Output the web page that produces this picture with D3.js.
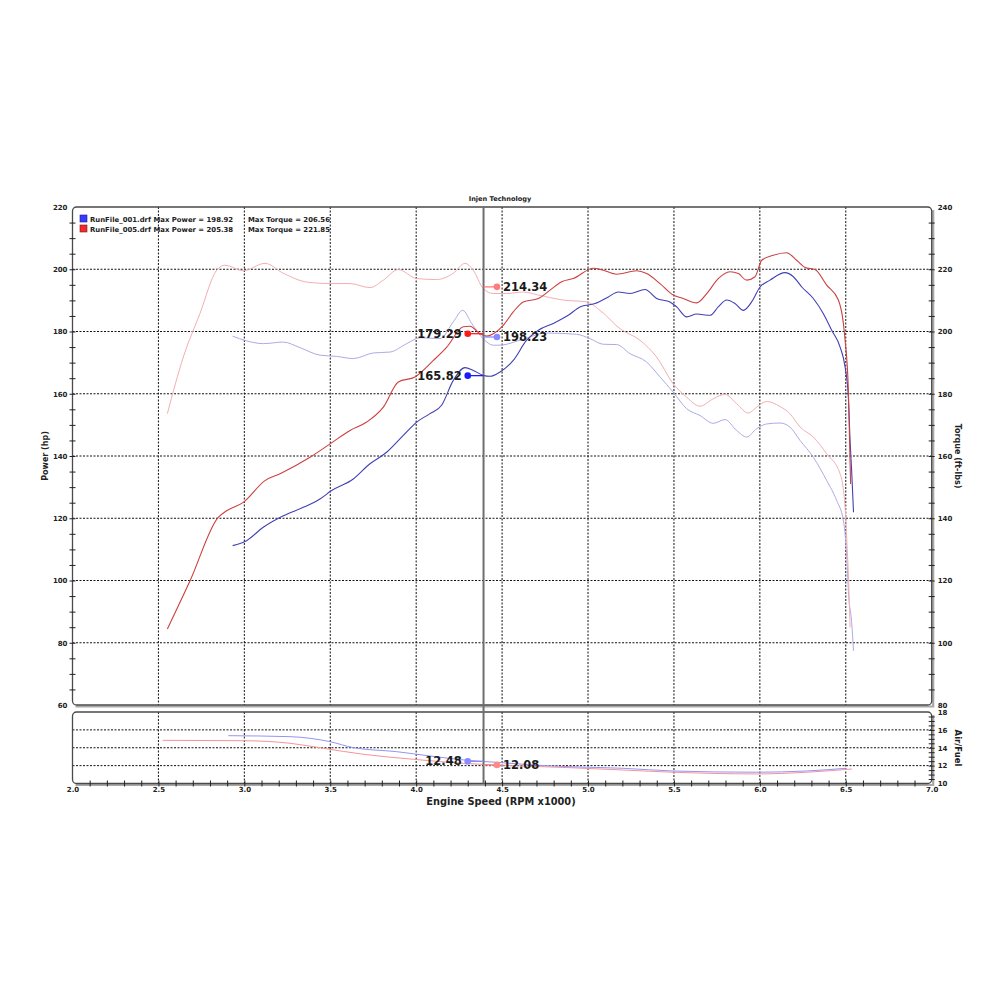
<!DOCTYPE html>
<html>
<head>
<meta charset="utf-8">
<script src="https://cdn.jsdelivr.net/npm/d3@7"></script>
<style>
  body { margin: 0; background: #fff; }
  svg { font-family: "DejaVu Sans", Verdana, sans-serif; }
</style>
</head>
<body>
<svg id="chart" width="1000" height="1000"></svg>
<script>
// run 1 (RunFile_001) power, hp
var rpm1P = [2.932,3.013,3.110,3.227,3.343,3.440,3.508,3.634,3.731,3.828,3.925,4.003,4.080,4.148,4.216,4.284,4.332,4.39,4.43,4.488,4.565,4.643,4.711,4.798,4.885,4.953,5.041,5.118,5.176,5.244,5.332,5.399,5.477,5.516,5.574,5.632,5.710,5.758,5.807,5.855,5.904,5.952,6.001,6.059,6.146,6.195,6.244,6.311,6.369,6.418,6.467,6.496,6.515,6.525,6.535,6.545];
var hp1 = [111.2,112.8,117.1,120.8,123.5,126.2,128.9,132.6,137.5,141.2,146.6,150.9,153.6,156.3,164.3,168.4,167.5,165.9,165.6,167.0,170.7,177.2,180.4,182.6,185.2,187.9,189.0,191.1,192.7,192.2,193.5,190.6,189.5,187.9,184.7,185.6,185.2,187.9,190.1,189.0,186.8,189.5,194.3,196.5,198.9,197.6,194.3,190.6,185.8,180.4,175.0,168.6,158.9,145.0,134.3,121.9];

// run 2 (RunFile_005) power, hp
var rpm2P = [2.552,2.684,2.848,2.897,2.994,3.120,3.208,3.382,3.499,3.615,3.712,3.809,3.896,3.993,4.100,4.178,4.274,4.313,4.371,4.41,4.449,4.507,4.565,4.623,4.711,4.779,4.847,4.914,5.031,5.089,5.167,5.283,5.341,5.419,5.496,5.554,5.632,5.691,5.758,5.826,5.875,5.923,5.972,6.011,6.078,6.156,6.214,6.263,6.321,6.389,6.457,6.486,6.496,6.515,6.522,6.528];
var hp2 = [84.4,99.9,120.3,122.4,125.1,132.1,134.3,139.6,143.9,148.2,150.9,155.7,163.8,165.4,170.7,175.0,181.5,181.7,179.3,178.5,179.3,182.0,186.3,189.5,190.6,193.3,196.0,197.0,200.3,199.7,198.4,199.5,198.6,195.4,191.7,190.6,189.2,192.2,197.0,199.2,198.6,196.5,197.6,202.9,204.5,205.3,202.9,200.6,199.9,194.9,190.1,182.6,177.2,161.1,145.0,131.0];

// torque, ft-lbs
var rpm1T = [2.932,3.013,3.110,3.227,3.324,3.440,3.537,3.634,3.750,3.848,3.945,4.022,4.139,4.216,4.271,4.323,4.39,4.449,4.488,4.604,4.759,4.934,5.012,5.089,5.167,5.244,5.341,5.419,5.496,5.574,5.652,5.729,5.797,5.865,5.923,5.982,6.040,6.117,6.175,6.234,6.311,6.389,6.447,6.486,6.506,6.515,6.535,6.545];
var tq1 = [198.5,197.0,196.1,196.6,194.8,192.4,192.0,191.3,193.1,193.4,196.1,198.0,197.7,203.1,206.8,202.6,197.7,195.6,195.6,197.2,199.5,199.1,197.7,195.9,195.8,192.9,190.2,185.4,180.5,175.2,173.0,170.5,171.7,168.2,166.1,168.8,170.3,170.6,169.3,165.0,159.6,152.1,145.7,139.2,127.4,116.7,106.0,97.4];
var rpm2T = [2.552,2.645,2.742,2.839,2.887,2.994,3.120,3.227,3.372,3.499,3.615,3.731,3.809,3.896,4.003,4.119,4.216,4.284,4.332,4.39,4.449,4.527,4.623,4.711,4.857,4.992,5.070,5.186,5.302,5.399,5.496,5.574,5.652,5.729,5.797,5.865,5.933,5.982,6.040,6.117,6.175,6.234,6.311,6.389,6.467,6.496,6.506,6.515,6.525];
var tq2 = [173.6,191.8,205.8,219.7,221.3,219.5,221.9,218.7,215.8,215.4,215.4,214.1,216.5,219.9,217.0,216.7,218.7,221.9,219.7,213.8,212.2,212.2,212.7,211.7,210.1,209.5,206.8,200.9,197.2,191.8,183.2,178.9,176.0,178.4,179.8,176.8,173.8,175.7,177.5,175.9,173.6,169.3,166.1,160.7,154.3,143.5,132.8,122.1,104.9];

// air/fuel
var rpm1A = [2.907,3.266,3.499,3.634,3.887,4.080,4.294,4.468,4.70,4.895,5.205,5.496,5.98,6.27,6.50];
var afr1 = [15.35,15.24,14.68,14.01,13.56,13.08,12.60,12.37,12.05,11.88,11.70,11.40,11.26,11.40,11.70];
var rpm2A = [2.525,2.994,3.266,3.460,3.692,3.983,4.274,4.468,4.895,5.205,5.496,5.98,6.272,6.535];
var afr2 = [14.83,14.79,14.50,13.94,13.27,12.71,12.26,12.07,11.77,11.51,11.26,11.07,11.26,11.62];

// cursor readouts
var cursorRpm = 4.392;
var powerRpm = 4.30, torqueRpm = 4.47;
var powerReads = [179.29, 165.82];   // run 2, run 1
var torqueReads = [214.34, 198.23];  // run 2, run 1
var afrReads = [12.48, 12.08];       // run 1 @ powerRpm, run 2 @ torqueRpm

var legendNames = ["RunFile_001.drf", "RunFile_005.drf"];
var maxPower = [198.92, 205.38];
var maxTorque = [206.56, 221.85];

var xTicks = [2.0,2.5,3.0,3.5,4.0,4.5,5.0,5.5,6.0,6.5,7.0];
var hpTicks = [60,80,100,120,140,160,180,200,220];
var tqTicks = [80,100,120,140,160,180,200,220,240];
var afrTicks = [10,12,14,16,18];

var svg = d3.select("#chart");

var L = 72.5, R = 931.7, T = 207, B = 705, AT = 712, AB = 783.5;

var x = d3.scaleLinear().domain([2,7]).range([L,R]);
var yP = d3.scaleLinear().domain([60,220]).range([B,T]);
var yT = d3.scaleLinear().domain([80,240]).range([B,T]);
var yA = d3.scaleLinear().domain([10,18]).range([AB,AT]);

var col = {p1:"#4040b4", p2:"#cc4040", t1:"#ababe6", t2:"#f3afb3", a1:"#9494f4", a2:"#f4949a"};

// title
svg.append("text").attr("x",500).attr("y",201).attr("text-anchor","middle")
   .attr("font-size",6.6).attr("font-weight","bold").attr("fill","#222").text("Injen Technology");

// grid (dotted)
var grid = svg.append("g").attr("stroke","#111").attr("stroke-width",1).attr("stroke-dasharray","2,1.5");
grid.selectAll(".vx").data(xTicks.slice(1,-1)).enter().append("line")
    .attr("x1",function(d){return x(d);}).attr("x2",function(d){return x(d);})
    .attr("y1",T).attr("y2",B);
grid.selectAll(".vxa").data(xTicks.slice(1,-1)).enter().append("line")
    .attr("x1",function(d){return x(d);}).attr("x2",function(d){return x(d);})
    .attr("y1",AT).attr("y2",AB);
grid.selectAll(".hy").data(hpTicks.slice(1,-1)).enter().append("line")
    .attr("x1",L).attr("x2",R).attr("y1",function(d){return yP(d);}).attr("y2",function(d){return yP(d);});
grid.selectAll(".ha").data([12,14,16]).enter().append("line")
    .attr("x1",L).attr("x2",R).attr("y1",function(d){return yA(d);}).attr("y2",function(d){return yA(d);});

// frames
function frame(top, bot){
  svg.append("path").attr("fill","none").attr("stroke","#a8a8a8").attr("stroke-width",2.2)
     .attr("d","M"+(L+3)+","+(bot+1.5)+"H"+(R+1.5)+"V"+(top+3));
  svg.append("rect").attr("x",L).attr("y",top).attr("width",R-L).attr("height",bot-top)
     .attr("rx",4).attr("fill","none").attr("stroke","#4a4a4a").attr("stroke-width",1.3);
}
frame(T,B);
frame(AT,AB);

// axes
function styleAxis(g){
  g.select(".domain").remove();
  g.selectAll("text").attr("font-size",7).attr("font-weight","bold").attr("fill","#222")
   .attr("font-family","DejaVu Sans, sans-serif");
  g.selectAll(".tick line").attr("stroke","#222");
}
// left hp
svg.append("g").attr("transform","translate("+L+",0)")
   .call(d3.axisLeft(yP).tickValues(hpTicks).tickSize(0).tickPadding(5).tickFormat(d3.format("d")))
   .call(styleAxis);
svg.append("g").attr("transform","translate("+(L+3)+",0)")
   .call(d3.axisLeft(yP).tickValues(d3.range(65,220,5)).tickSize(6).tickFormat(""))
   .call(styleAxis);
// right torque
svg.append("g").attr("transform","translate("+R+",0)")
   .call(d3.axisRight(yT).tickValues(tqTicks).tickSize(0).tickPadding(6).tickFormat(d3.format("d")))
   .call(styleAxis);
svg.append("g").attr("transform","translate("+(R-3)+",0)")
   .call(d3.axisRight(yT).tickValues(d3.range(85,240,5)).tickSize(6).tickFormat(""))
   .call(styleAxis);
// right afr
svg.append("g").attr("transform","translate("+R+",0)")
   .call(d3.axisRight(yA).tickValues(afrTicks).tickSize(0).tickPadding(6).tickFormat(d3.format("d")))
   .call(styleAxis);
svg.append("g").attr("transform","translate("+(R-3)+",0)")
   .call(d3.axisRight(yA).tickValues(d3.range(10.5,18,0.5)).tickSize(6).tickFormat(""))
   .call(styleAxis);
// bottom rpm
svg.append("g").attr("transform","translate(0,"+AB+")")
   .call(d3.axisBottom(x).tickValues(xTicks).tickSize(0).tickPadding(4).tickFormat(d3.format(".1f")))
   .call(styleAxis);
svg.append("g").attr("transform","translate(0,"+(AB-3)+")")
   .call(d3.axisBottom(x).tickValues(d3.range(21,70,1).map(function(v){return v/10;})).tickSize(6).tickFormat(""))
   .call(styleAxis);

// axis titles
svg.append("text").attr("transform","translate(48,456) rotate(-90)").attr("text-anchor","middle")
   .attr("font-size",8).attr("font-weight","bold").attr("fill","#222").text("Power (hp)");
svg.append("text").attr("transform","translate(955,456) rotate(90)").attr("text-anchor","middle")
   .attr("font-size",8).attr("font-weight","bold").attr("fill","#222").text("Torque (ft-lbs)");
svg.append("text").attr("transform","translate(955,748) rotate(90)").attr("text-anchor","middle")
   .attr("font-size",8.5).attr("font-weight","bold").attr("fill","#222").text("Air/Fuel");
svg.append("text").attr("x",501).attr("y",805).attr("text-anchor","middle")
   .attr("font-size",9.8).attr("font-weight","bold").attr("fill","#222").text("Engine Speed (RPM x1000)");

// curves
var line = function(ys){
  return d3.line().x(function(d){return x(d[0]);}).y(function(d){return ys(d[1]);}).curve(d3.curveMonotoneX);
};
function draw(rpms, vals, ys, color, w){
  svg.append("path").datum(d3.zip(rpms, vals)).attr("fill","none")
     .attr("stroke",color).attr("stroke-width",w).attr("d",line(ys));
}
draw(rpm1T, tq1, yT, col.t1, 1.0);
draw(rpm2T, tq2, yT, col.t2, 1.0);
draw(rpm1P, hp1, yP, col.p1, 1.1);
draw(rpm2P, hp2, yP, col.p2, 1.1);
draw(rpm2A, afr2, yA, col.a2, 1.0);
draw(rpm1A, afr1, yA, col.a1, 1.0);

// cursor
svg.append("line").attr("x1",x(cursorRpm)).attr("x2",x(cursorRpm)).attr("y1",T).attr("y2",AB)
   .attr("stroke","#6e6e6e").attr("stroke-width",2);

// readout markers
var reads = [
  {rpm:powerRpm, v:powerReads[0], s:yP, c:"#ff1a1a", side:-1},
  {rpm:powerRpm, v:powerReads[1], s:yP, c:"#1a1aff", side:-1},
  {rpm:torqueRpm, v:torqueReads[0], s:yT, c:"#ff7a7a", side:1},
  {rpm:torqueRpm, v:torqueReads[1], s:yT, c:"#8a8aff", side:1},
  {rpm:powerRpm, v:afrReads[0], s:yA, c:"#8a8aff", side:-1},
  {rpm:torqueRpm, v:afrReads[1], s:yA, c:"#ff8a8a", side:1}
];
var rg = svg.append("g").selectAll("g").data(reads).enter().append("g");
rg.append("line").attr("x1",function(d){return x(d.rpm);}).attr("x2",x(cursorRpm))
  .attr("y1",function(d){return d.s(d.v);}).attr("y2",function(d){return d.s(d.v);})
  .attr("stroke",function(d){return d.c;}).attr("stroke-width",1.3);
rg.append("circle").attr("cx",function(d){return x(d.rpm);}).attr("cy",function(d){return d.s(d.v);})
  .attr("r",3.3).attr("fill",function(d){return d.c;});
rg.append("text").attr("x",function(d){return x(d.rpm)+d.side*6;})
  .attr("y",function(d){return d.s(d.v)+4;})
  .attr("text-anchor",function(d){return d.side<0?"end":"start";})
  .attr("font-size",11.5).attr("font-weight","bold").attr("fill","#1a1a1a")
  .text(function(d){return d3.format(".2f")(d.v);});

// legend
var leg = svg.append("g").selectAll("g").data(legendNames).enter().append("g")
  .attr("transform",function(d,i){return "translate(80,"+(215+i*10)+")";});
leg.append("rect").attr("width",7).attr("height",7)
  .attr("fill",function(d,i){return i==0?"#3a3aff":"#ee2a2a";})
  .attr("stroke",function(d,i){return i==0?"#1a1a8a":"#8a1a1a";}).attr("stroke-width",0.6);
leg.append("text").attr("x",10).attr("y",6.5).attr("font-size",6.9).attr("font-weight","bold").attr("fill","#222")
  .text(function(d,i){return d+" Max Power = "+maxPower[i].toFixed(2);});
leg.append("text").attr("x",168).attr("y",6.5).attr("font-size",6.9).attr("font-weight","bold").attr("fill","#222")
  .text(function(d,i){return "Max Torque = "+maxTorque[i].toFixed(2);});
</script>
</body>
</html>
